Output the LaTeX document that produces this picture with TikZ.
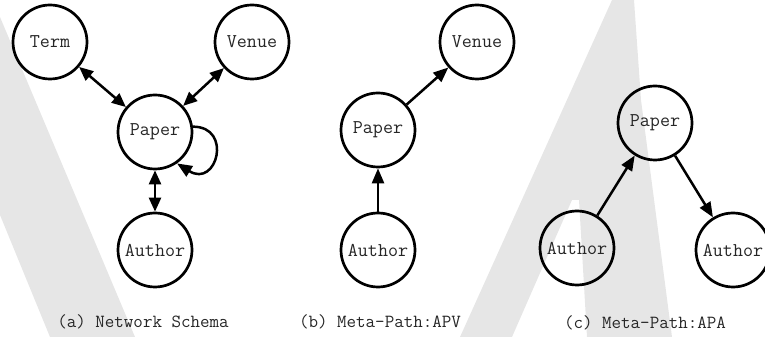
\documentclass[tikz,border=0pt]{standalone}
\usepackage{fontspec}
\usetikzlibrary{arrows.meta}
\definecolor{wm}{HTML}{E6E6E6}
\begin{document}
\begin{tikzpicture}[x=1pt,y=1pt,
  ent/.style={circle,draw=black,line width=2.7pt,minimum size=74pt,inner sep=0pt,
    font=\fontsize{19.5}{19.5}\selectfont\ttfamily,text=black!85},
  arr/.style={line width=2.5pt,-{Triangle[length=15pt,width=12pt]}},
  dbl/.style={line width=2.5pt,{Triangle[length=14pt,width=12pt]}-{Triangle[length=14pt,width=12pt]}},
  capt/.style={font=\fontsize{18.5}{18.5}\selectfont\ttfamily,text=black!85}]
\useasboundingbox (0,0) rectangle (765,337);
\clip (0,0) rectangle (765,337);
% watermark shapes
\fill[wm] (0,320) -- (135,0) -- (50,0) -- (0,122) -- cycle;
\fill[wm] (460,0) -- (612,337) -- (634,337) -- (641,237) -- (672,0) -- (587,0)
  -- (579,137) -- (572,137) -- (512,0) -- cycle;
% (a) network schema
\node[ent] (term) at (50,295) {Term};
\node[ent] (va) at (252,295) {Venue};
\node[ent] (pa) at (155,205) {Paper};
\node[ent] (aa) at (155,87) {Author};
\draw[dbl] (term) -- (pa);
\draw[dbl] (va) -- (pa);
\draw[dbl] (pa) -- (aa);
\draw[arr] (pa.8) .. controls +(40,0) and +(40,-25) .. (pa.-55);
\node[capt] (ca) at (143,15) {(a) Network Schema};
% (b) meta-path APV
\node[ent] (vb) at (477,295) {Venue};
\node[ent] (pb) at (378,207) {Paper};
\node[ent] (ab) at (378,87) {Author};
\draw[arr] (ab) -- (pb);
\draw[arr] (pb) -- (vb);
\node[capt] (cb) at (380,15) {(b) Meta-Path:APV};
% (c) meta-path APA
\node[ent] (pc) at (655,214) {Paper};
\node[ent] (alc) at (577,89) {Author};
\node[ent] (arc) at (733,87) {Author};
\draw[arr] (alc) -- (pc);
\draw[arr] (pc) -- (arc);
\node[capt] (cc) at (645,14) {(c) Meta-Path:APA};
\end{tikzpicture}
\end{document}
